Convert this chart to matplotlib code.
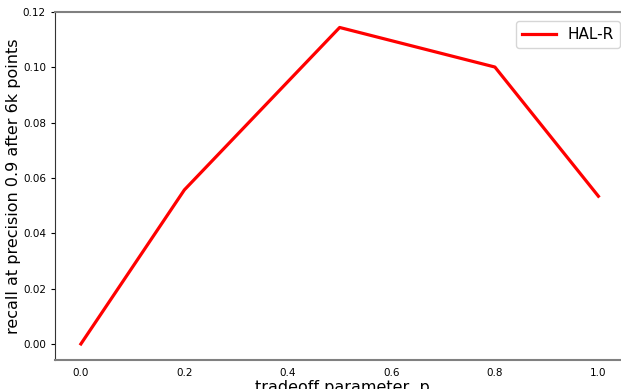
import matplotlib
matplotlib.use('Agg')
import matplotlib.pyplot as plt

p_values = [0.0, 0.2, 0.5, 0.8, 1.0]
recall = [0.0, 0.0557, 0.1144, 0.1001, 0.0534]
x_ticks = [0.0, 0.2, 0.4, 0.6, 0.8, 1.0]
y_ticks = [0.00, 0.02, 0.04, 0.06, 0.08, 0.10, 0.12]

fig = plt.figure(figsize=(6.21, 3.89), dpi=100)
ax = fig.add_axes([0.0886, 0.0746, 0.925, 0.8946])

ax.plot(p_values, recall, color='red', linewidth=2.3, label='HAL-R')

ax.set_xlim(-0.05, 1.06)
ax.set_ylim(-0.0058, 0.12)
ax.set_xticks(x_ticks)
ax.set_yticks(y_ticks)
ax.set_xticklabels(['%.1f' % t for t in x_ticks])
ax.set_yticklabels(['%.2f' % t for t in y_ticks])
ax.tick_params(axis='both', labelsize=7.5)
ax.tick_params(axis='x', length=0, pad=6)
ax.tick_params(axis='y', length=3)

ax.spines['right'].set_visible(False)
ax.spines['top'].set_color('#808080')
ax.spines['bottom'].set_color('#808080')
ax.spines['top'].set_linewidth(1.5)
ax.spines['bottom'].set_linewidth(1.5)
ax.spines['left'].set_color('#333333')

ax.set_xlabel('tradeoff parameter, p', fontsize=11.5, labelpad=1)
ax.set_ylabel('recall at precision 0.9 after 6k points', fontsize=11.5, labelpad=1)

ax.legend(loc='upper right', fontsize=11, borderaxespad=0.6, handlelength=2.2)

fig.savefig('out.png', dpi=100)
